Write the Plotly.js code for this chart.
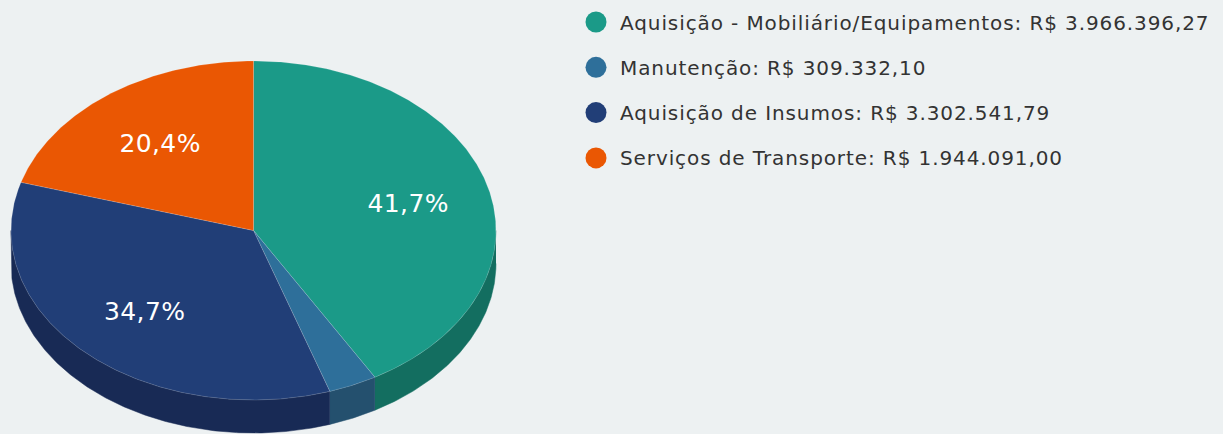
<!DOCTYPE html>
<html>
<head>
<meta charset="utf-8">
<script src="https://cdn.plot.ly/plotly-3.0.1.min.js"></script>
<style>
html,body{margin:0;padding:0;background:#edf1f2;}
#chart{width:1223px;height:434px;}
#chart .textpoint text{letter-spacing:0.4px;}
#chart .legendtext .textpoint text{letter-spacing:0.9px;}
</style>
</head>
<body>
<div id="chart"></div>
<script>
const categories = ['Aquisição - Mobiliário/Equipamentos', 'Manutenção', 'Aquisição de Insumos', 'Serviços de Transporte'];
const values = [3966396.27, 309332.10, 3302541.79, 1944091.00];
const colors = ['#1b9a88', '#2e6f9a', '#213e77', '#ea5703'];
const sideColors = ['#136e60', '#24506e', '#182a55', '#a33d02'];

// geometry (pixel-like data coordinates)
const cx = 253.5, cy = 230.5, rx = 242.5, ry = 169.5, depth = 33;
const labelF = 0.654, labelDy = 4, labelDx = 1.5;
const legendX = 596, legendTextX = 620, legendTextDy = 2.5, legendY0 = 22, legendDY = 45.3;

function pt(deg, f, dy) {
  const r = deg * Math.PI / 180;
  return [cx + rx * f * Math.sin(r), cy - ry * f * Math.cos(r) + dy];
}
function brl(n) {
  const parts = n.toFixed(2).split('.');
  return parts[0].replace(/\B(?=(\d{3})+(?!\d))/g, '.') + ',' + parts[1];
}

const total = values.reduce((a, b) => a + b, 0);
const traces = [];
let acc = 0;
const slices = values.map((v, i) => {
  const s = acc / total * 360;
  acc += v;
  const e = acc / total * 360;
  return { s, e, i };
});

// side walls
slices.forEach(({ s, e, i }) => {
  const a = Math.max(s, 90), b = Math.min(e, 270);
  if (a >= b) return;
  const xs = [], ys = [];
  for (let d = a; d <= b; d += 0.5) { const p = pt(d, 1, 0); xs.push(p[0]); ys.push(p[1]); }
  { const p = pt(b, 1, 0); xs.push(p[0]); ys.push(p[1]); }
  for (let d = b; d >= a; d -= 0.5) { const p = pt(d, 1, depth); xs.push(p[0]); ys.push(p[1]); }
  { const p = pt(a, 1, depth); xs.push(p[0]); ys.push(p[1]); }
  traces.push({ type: 'scatter', mode: 'lines', x: xs, y: ys, fill: 'toself', fillcolor: sideColors[i],
    line: { width: 0.5, color: sideColors[i] }, hoverinfo: 'skip', showlegend: false });
});

// top faces
slices.forEach(({ s, e, i }) => {
  const xs = [cx], ys = [cy];
  for (let d = s; d <= e; d += 0.5) { const p = pt(d, 1, 0); xs.push(p[0]); ys.push(p[1]); }
  { const p = pt(e, 1, 0); xs.push(p[0]); ys.push(p[1]); }
  xs.push(cx); ys.push(cy);
  traces.push({ type: 'scatter', mode: 'lines', x: xs, y: ys, fill: 'toself', fillcolor: colors[i],
    line: { width: 0.6, color: 'rgba(255,255,255,0.25)' }, hoverinfo: 'skip', showlegend: false });
});

// percentage labels
const lx = [], ly = [], lt = [];
slices.forEach(({ s, e, i }) => {
  const pct = values[i] / total * 100;
  if (pct < 5) return;
  const p = pt((s + e) / 2, labelF, labelDy);
  lx.push(p[0] + labelDx); ly.push(p[1]);
  lt.push(pct.toFixed(1).replace('.', ',') + '%');
});
traces.push({ type: 'scatter', mode: 'text', x: lx, y: ly, text: lt, textposition: 'middle center',
  textfont: { family: 'DejaVu Sans', size: 25, color: '#ffffff' }, hoverinfo: 'skip', showlegend: false });

// legend markers
traces.push({ type: 'scatter', mode: 'markers', x: categories.map(() => legendX),
  y: categories.map((c, i) => legendY0 + i * legendDY),
  marker: { size: 21, color: colors, line: { width: 0 } }, hoverinfo: 'skip', showlegend: false });

// legend texts
traces.push({ type: 'scatter', mode: 'text', x: categories.map(() => legendTextX),
  y: categories.map((c, i) => legendY0 + i * legendDY + legendTextDy),
  text: categories.map((c, i) => c + ': R$ ' + brl(values[i])), textposition: 'middle right',
  textfont: { family: 'DejaVu Sans', size: 20, color: '#333333' }, hoverinfo: 'skip', showlegend: false });

const layout = {
  width: 1223, height: 434,
  margin: { l: 0, r: 0, t: 0, b: 0, pad: 0 },
  paper_bgcolor: '#edf1f2', plot_bgcolor: '#edf1f2',
  xaxis: { range: [0, 1223], visible: false, fixedrange: true },
  yaxis: { range: [434, 0], visible: false, fixedrange: true },
  showlegend: false
};

Plotly.newPlot('chart', traces, layout, { displayModeBar: false, staticPlot: true }).then(gd => {
  // mark the legend text trace group so the wider letter spacing applies only there
  const groups = gd.querySelectorAll('.scatterlayer .trace');
  const last = groups[groups.length - 1];
  if (last) last.classList.add('legendtext');
});
</script>
</body>
</html>
